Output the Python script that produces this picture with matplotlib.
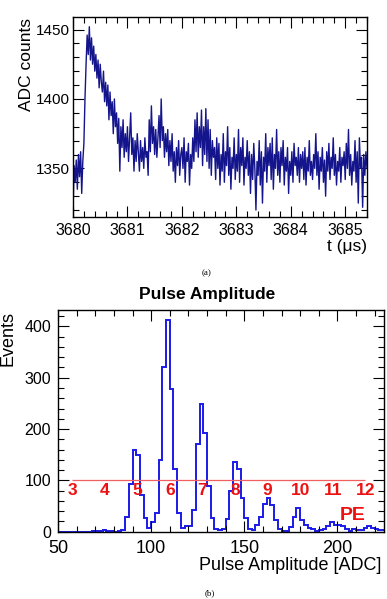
import numpy as np
import matplotlib
matplotlib.use("Agg")
import matplotlib.pyplot as plt
from matplotlib.ticker import MultipleLocator

plt.rcParams["font.family"] = ["Liberation Sans", "DejaVu Sans"]

# --- (a) waveform: ADC samples every 0.02 us starting at 3680.00 us
t_start = 3680.0
t_step = 0.02
adc = [
    1318, 1352, 1340, 1356, 1335, 1360, 1344, 1362, 1332, 1355,
    1368, 1400, 1425, 1446, 1432, 1452, 1428, 1444, 1425, 1438,
    1420, 1432, 1415, 1428, 1408, 1425, 1412, 1405, 1420, 1398,
    1412, 1395, 1410, 1385, 1405, 1388, 1398, 1375, 1400, 1380,
    1390, 1368, 1386, 1348, 1380, 1365, 1385, 1358, 1375, 1362,
    1380, 1355, 1372, 1390, 1360, 1372, 1348, 1370, 1355, 1375,
    1362, 1348, 1370, 1355, 1365, 1350, 1372, 1358, 1362, 1345,
    1385, 1362, 1395, 1368, 1380, 1360, 1378, 1358, 1372, 1388,
    1365, 1400, 1370, 1380, 1358, 1375, 1362, 1378, 1352, 1370,
    1355, 1375, 1348, 1362, 1340, 1365, 1352, 1370, 1345, 1360,
    1365, 1350, 1372, 1340, 1362, 1355, 1368, 1338, 1360, 1350,
    1372, 1355, 1385, 1362, 1390, 1358, 1380, 1365, 1392, 1352,
    1380, 1360, 1393, 1355, 1385, 1350, 1378, 1345, 1370, 1358,
    1365, 1342, 1372, 1350, 1368, 1338, 1360, 1348, 1375, 1340,
    1362, 1352, 1380, 1345, 1365, 1335, 1358, 1350, 1372, 1342,
    1360, 1348, 1378, 1340, 1365, 1352, 1372, 1338, 1358, 1350,
    1370, 1345, 1362, 1332, 1360, 1342, 1368, 1350, 1320, 1355,
    1345, 1370, 1338, 1362, 1325, 1358, 1348, 1375, 1340, 1365,
    1352, 1368, 1342, 1372, 1335, 1360, 1350, 1378, 1345, 1362,
    1340, 1365, 1352, 1370, 1338, 1358, 1348, 1365, 1332, 1355,
    1345, 1362, 1340, 1368, 1352, 1358, 1345, 1365, 1340, 1360,
    1350, 1362, 1342, 1365, 1338, 1358, 1348, 1370, 1345, 1355,
    1342, 1360, 1350, 1375, 1345, 1362, 1335, 1358, 1348, 1365,
    1340, 1356, 1330, 1362, 1348, 1368, 1342, 1358, 1350, 1372,
    1345, 1360, 1338, 1355, 1348, 1365, 1340, 1358, 1352, 1362,
    1342, 1368, 1350, 1378, 1345, 1360, 1338, 1355, 1348, 1370,
    1340, 1362, 1325, 1372, 1350, 1358, 1322, 1360, 1345, 1362,
    1350,
]

# --- (b) pulse amplitude histogram, 2 ADC bins from 50
bin_lo = 50
bin_w = 2
counts = [
    0, 0, 0, 0, 0, 0, 0, 0, 0, 1,
    2, 2, 3, 1, 1, 0, 1, 4, 29, 92,
    159, 150, 72, 26, 7, 18, 37, 140, 321, 412,
    278, 122, 37, 8, 12, 11, 42, 171, 249, 192,
    89, 27, 6, 3, 6, 25, 80, 135, 122, 65,
    26, 6, 3, 13, 28, 54, 65, 52, 23, 6,
    2, 2, 10, 28, 47, 23, 13, 7, 6, 2,
    3, 6, 11, 18, 14, 13, 12, 5, 2, 5,
    4, 3, 8, 12, 7, 5, 3, 3,
]

# photo-electron scale: amplitude = pedestal + gain * n_pe
pe_numbers = [3, 4, 5, 6, 7, 8, 9, 10, 11, 12]
pe_pedestal = 5.0
pe_gain = 17.5
pe_level = 100

W, H = 387, 599
fig = plt.figure(figsize=(W / 100, H / 100), dpi=100)


def px_axes(l, t, r, b):
    return fig.add_axes([l / W, 1 - b / H, (r - l) / W, (b - t) / H])


def root_ticks(ax, size):
    ax.tick_params(which="both", direction="in", top=True, right=True, width=0.8)
    ax.tick_params(which="major", length=8, labelsize=size)
    ax.tick_params(which="minor", length=4)
    for s in ax.spines.values():
        s.set_linewidth(1.0)


# ---------------- (a)
ax1 = px_axes(73, 17, 367, 217)
t = t_start + t_step * np.arange(len(adc))
ax1.plot(t, adc, color="#14148c", linewidth=1.0)
ax1.set_xlim(3680, 3685.4)
ax1.set_ylim(1315, 1459)
ax1.xaxis.set_major_locator(MultipleLocator(1))
ax1.xaxis.set_minor_locator(MultipleLocator(0.2))
ax1.yaxis.set_major_locator(MultipleLocator(50))
ax1.yaxis.set_minor_locator(MultipleLocator(10))
root_ticks(ax1, 11.5)
ax1.tick_params(axis="x", pad=4)
ax1.tick_params(axis="y", pad=2, labelsize=11)
fig.text(27 / W, 1 - 18 / H, "ADC counts", rotation=90, ha="center", va="top", fontsize=12.5)
fig.text(367 / W, 1 - 247 / H, "t (μs)", ha="right", va="center", fontsize=12.5)
fig.text(207 / W, 1 - 273 / H, "(a)", ha="center", va="center", fontsize=6.5,
         family=["Liberation Serif", "DejaVu Serif"])

# ---------------- (b)
ax2 = px_axes(58, 310, 384, 531.7)
edges = bin_lo + bin_w * np.arange(len(counts) + 1)
ax2.stairs(counts, edges, color="#1a1ae6", linewidth=1.4)
ax2.hlines(pe_level, pe_pedestal + pe_gain * pe_numbers[0],
           pe_pedestal + pe_gain * pe_numbers[-1], color="#f06060", linewidth=0.9)
for n in pe_numbers:
    ax2.text(pe_pedestal + pe_gain * n, 80, str(n), color="#ee1111",
             fontsize=12.5, fontweight="bold", ha="center", va="center")
ax2.text(208, 31, "PE", color="#ee1111", fontsize=14, fontweight="bold",
         ha="center", va="center")
ax2.set_xlim(50, 225)
ax2.set_ylim(0, 432)
ax2.xaxis.set_major_locator(MultipleLocator(50))
ax2.xaxis.set_minor_locator(MultipleLocator(10))
ax2.yaxis.set_major_locator(MultipleLocator(100))
ax2.yaxis.set_minor_locator(MultipleLocator(20))
root_ticks(ax2, 11.5)
ax2.tick_params(axis="x", pad=6, labelsize=13)
ax2.tick_params(axis="y", pad=5)
fig.text(207 / W, 1 - 294 / H, "Pulse Amplitude", ha="center", va="center",
         fontsize=12.5, fontweight="bold")
fig.text(8 / W, 1 - 311 / H, "Events", rotation=90, ha="center", va="top", fontsize=13)
fig.text(381 / W, 1 - 565 / H, "Pulse Amplitude [ADC]", ha="right", va="center", fontsize=13)
fig.text(210 / W, 1 - 593 / H, "(b)", ha="center", va="center", fontsize=6.5,
         family=["Liberation Serif", "DejaVu Serif"])

fig.savefig("out.png", dpi=100)
